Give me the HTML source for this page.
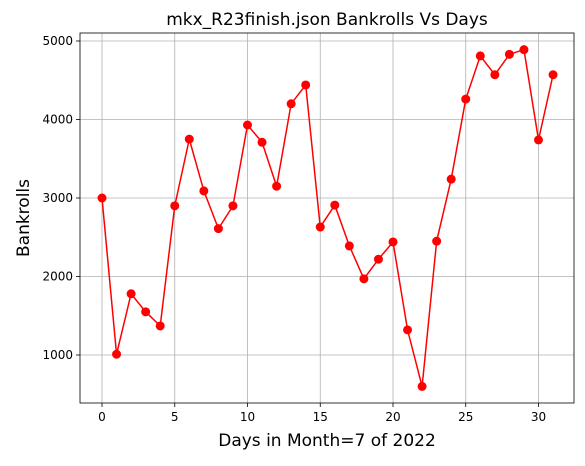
<!DOCTYPE html>
<html><head><meta charset="utf-8"><style>
body{margin:0;background:#fff;}
svg text{font-family:"DejaVu Sans","Liberation Sans",sans-serif;}
</style></head><body>
<svg id="chart" width="585" height="461" xmlns="http://www.w3.org/2000/svg">
<rect width="585" height="461" fill="#fff"/>
<text x="327" y="25" font-size="17" text-anchor="middle">mkx_R23finish.json Bankrolls Vs Days</text>
<g id="grid"></g>
<g id="axes"></g>
<g id="series"></g>
<text x="327" y="446" font-size="17" text-anchor="middle">Days in Month=7 of 2022</text>
<text x="0" y="0" font-size="17" text-anchor="middle" transform="translate(29,218) rotate(-90)">Bankrolls</text>
</svg>
<script>
const days=[0,1,2,3,4,5,6,7,8,9,10,11,12,13,14,15,16,17,18,19,20,21,22,23,24,25,26,27,28,29,30,31];
const bankrolls=[3000,1010,1780,1550,1370,2900,3750,3090,2610,2900,3930,3710,3150,4200,4440,2630,2910,2390,1970,2220,2440,1320,600,2450,3240,4260,4810,4570,4830,4890,3740,4570];
const xTicks=[0,5,10,15,20,25,30];
const yTicks=[1000,2000,3000,4000,5000];
const L=80,R=574,T=33,B=403;
const xs=v=>102+v*14.55;
const ys=v=>198-(v-3000)*0.0785;
const NS="http://www.w3.org/2000/svg";
function mk(tag,attrs,parent){const e=document.createElementNS(NS,tag);for(const k in attrs)e.setAttribute(k,attrs[k]);parent.appendChild(e);return e;}
const grid=document.getElementById('grid'),axes=document.getElementById('axes'),ser=document.getElementById('series');
xTicks.forEach(t=>{
 const x=xs(t);
 const g=mk('line',{x1:x,x2:x,y1:T,y2:B,stroke:'#b0b0b0','stroke-width':0.8},grid);
 
 
 mk('line',{x1:x,x2:x,y1:B,y2:B+4,stroke:'#000','stroke-width':0.8},axes);
 const tx=mk('text',{x:x,y:B+18,'font-size':12,'text-anchor':'middle'},axes);tx.textContent=t;
 
 
});
yTicks.forEach(t=>{
 const y=ys(t);
 const g=mk('line',{x1:L,x2:R,y1:y,y2:y,stroke:'#b0b0b0','stroke-width':0.8},grid);
 
 
 mk('line',{x1:L-4,x2:L,y1:y,y2:y,stroke:'#000','stroke-width':0.8},axes);
 const tx=mk('text',{x:L-7,y:y+4,'font-size':12,'text-anchor':'end'},axes);tx.textContent=t;
 
 
});
const frame=mk('rect',{x:L,y:T,width:R-L,height:B-T,fill:'none',stroke:'#000','stroke-width':0.8},axes);


const line=mk('polyline',{points:days.map((d,i)=>xs(d)+','+ys(bankrolls[i])).join(' '),fill:'none',stroke:'#ff0000','stroke-width':1.5},ser);


days.forEach((d,i)=>{
 const c=mk('circle',{cx:xs(d),cy:ys(bankrolls[i]),r:4.5,fill:'#ff0000'},ser);
 
 
});
</script>
</body></html>
